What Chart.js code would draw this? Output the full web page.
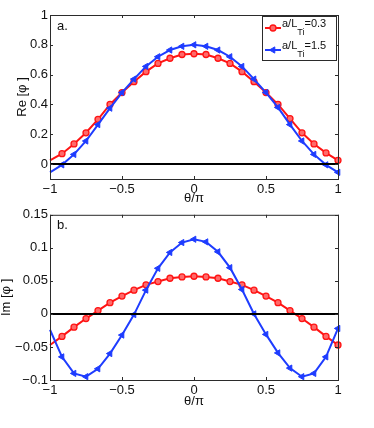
<!DOCTYPE html>
<html>
<head>
<meta charset="utf-8">
<script src="https://cdn.jsdelivr.net/npm/chart.js@4.4.1/dist/chart.umd.min.js"></script>
<style>
  html, body { margin: 0; padding: 0; background: #fff; }
  #wrap { position: relative; width: 374px; height: 428px; overflow: hidden; }
  canvas { position: absolute; left: 0; }
  #re-chart { top: 0; }
  #im-chart { top: 205px; }
</style>
</head>
<body>
<div id="wrap">
  <canvas id="re-chart" width="374" height="205"></canvas>
  <canvas id="im-chart" width="374" height="203"></canvas>
</div>
<script>
// theta/pi sample points
const theta = [-1, -0.9167, -0.8333, -0.75, -0.6667, -0.5833, -0.5, -0.4167, -0.3333, -0.25, -0.1667, -0.0833,
  0, 0.0833, 0.1667, 0.25, 0.3333, 0.4167, 0.5, 0.5833, 0.6667, 0.75, 0.8333, 0.9167, 1];

// a/L_Ti values for the two series
const seriesLabels = ['0.3', '1.5'];

// Re[phi]
const reLow  = [0.025, 0.07, 0.135, 0.21, 0.30, 0.40, 0.48, 0.553, 0.62, 0.675, 0.71, 0.735, 0.74,
  0.735, 0.71, 0.675, 0.62, 0.553, 0.48, 0.40, 0.305, 0.21, 0.135, 0.075, 0.025];
const reHigh = [-0.055, -0.005, 0.065, 0.155, 0.265, 0.375, 0.48, 0.57, 0.655, 0.72, 0.765, 0.79, 0.80,
  0.79, 0.765, 0.72, 0.655, 0.57, 0.48, 0.38, 0.265, 0.155, 0.065, -0.005, -0.055];

// Im[phi]
const imLow  = [-0.047, -0.034, -0.020, -0.007, 0.005, 0.017, 0.027, 0.036, 0.044, 0.049, 0.054, 0.056, 0.057,
  0.056, 0.054, 0.049, 0.044, 0.036, 0.027, 0.017, 0.005, -0.007, -0.020, -0.034, -0.047];
const imHigh = [-0.024, -0.065, -0.090, -0.095, -0.083, -0.060, -0.032, -0.001, 0.036, 0.069, 0.093, 0.108, 0.113,
  0.109, 0.094, 0.070, 0.037, 0.000, -0.031, -0.059, -0.082, -0.095, -0.090, -0.065, -0.022];

// zero reference line
const zeroX = [-1, 1];
const zeroY = [0, 0];

// ticks
const xTicks = [-1, -0.5, 0, 0.5, 1];
const reTicks = [0, 0.2, 0.4, 0.6, 0.8, 1];
const imTicks = [-0.1, -0.05, 0, 0.05, 0.1, 0.15];

const RED = '#ff1414';
const BLUE = '#1e3cff';
const FONT = "'Liberation Sans', Arial, Helvetica, sans-serif";

const toPoints = (xs, ys) => xs.map((x, i) => ({ x: x, y: ys[i] }));
const fmt = v => String(v).replace('-', '\u2212');

// box, inward ticks, panel tag and legend (MATLAB-ish frame)
const framePlugin = {
  id: 'frame',
  afterDatasetsDraw(chart, args, opts) {
    const { ctx, chartArea: a, scales: { x, y } } = chart;
    ctx.save();
    ctx.strokeStyle = '#2b2b2b';
    ctx.lineWidth = 1;
    ctx.strokeRect(a.left + 0.5, a.top + 0.5, a.right - a.left, a.bottom - a.top);
    ctx.beginPath();
    x.ticks.forEach(t => {
      const px = Math.round(x.getPixelForValue(t.value)) + 0.5;
      ctx.moveTo(px, a.bottom); ctx.lineTo(px, a.bottom - 3);
      ctx.moveTo(px, a.top); ctx.lineTo(px, a.top + 3);
    });
    y.ticks.forEach(t => {
      const py = Math.round(y.getPixelForValue(t.value)) + 0.5;
      ctx.moveTo(a.left, py); ctx.lineTo(a.left + 3, py);
      ctx.moveTo(a.right, py); ctx.lineTo(a.right - 3, py);
    });
    ctx.stroke();

    ctx.fillStyle = '#111';
    ctx.font = '13px ' + FONT;
    ctx.textBaseline = 'middle';
    ctx.textAlign = 'left';
    ctx.fillText(opts.tag, a.left + 7, a.top + opts.tagDy);

    if (opts.legend) {
      const lx = 262, ly = 16, lw = 74, lh = 44;
      ctx.fillStyle = '#fff';
      ctx.fillRect(lx, ly, lw, lh);
      ctx.strokeStyle = '#2b2b2b';
      ctx.strokeRect(lx + 0.5, ly + 0.5, lw, lh);
      const sets = chart.data.datasets.filter(d => d.legendValue)
        .sort((p, q) => seriesLabels.indexOf(p.legendValue) - seriesLabels.indexOf(q.legendValue));
      sets.forEach((d, i) => {
        const cy = 28 + i * 22;
        ctx.strokeStyle = d.borderColor;
        ctx.lineWidth = 2;
        ctx.beginPath();
        ctx.moveTo(265, cy); ctx.lineTo(281, cy);
        ctx.stroke();
        ctx.fillStyle = d.pointBackgroundColor;
        ctx.lineWidth = d.pointBorderWidth;
        Chart.helpers.drawPoint(ctx, {
          pointStyle: d.pointStyle, radius: d.legendRadius,
          rotation: d.pointRotation, borderWidth: d.pointBorderWidth
        }, 273, cy);
        ctx.fillStyle = '#111';
        ctx.textBaseline = 'alphabetic';
        ctx.font = '11px ' + FONT;
        ctx.fillText('a/L', 282, cy - 0.7);
        const w = ctx.measureText('a/L').width;
        ctx.font = '9px ' + FONT;
        ctx.fillText('Ti', 282 + w, cy + 6.5);
        const sw = ctx.measureText('Ti').width;
        ctx.font = '11px ' + FONT;
        ctx.fillText('=' + d.legendValue, 282 + w + sw, cy - 0.7);
      });
    }
    ctx.restore();
  }
};

const lowStyle = {
  borderColor: RED, borderWidth: 2,
  pointStyle: 'circle', pointBackgroundColor: '#ff6a6a', pointBorderColor: RED,
  pointBorderWidth: 1.3, pointRotation: 0, legendRadius: 3,
  pointRadius: c => c.dataIndex === 0 ? 0 : 3
};
const highStyle = {
  borderColor: BLUE, borderWidth: 2,
  pointStyle: 'triangle', pointBackgroundColor: BLUE, pointBorderColor: BLUE,
  pointBorderWidth: 1, pointRotation: -90, legendRadius: 3.6,
  pointRadius: c => c.dataIndex === 0 ? 0 : 3.6
};

function makeChart(id, low, high, yMin, yMax, yTicks, yTitle, opts) {
  const ctx = document.getElementById(id).getContext('2d');
  return new Chart(ctx, {
    type: 'line',
    data: {
      datasets: [
        { data: toPoints(zeroX, zeroY), borderColor: '#000', borderWidth: 2, pointRadius: 0 },
        Object.assign({ data: toPoints(theta, high), legendValue: seriesLabels[1], clip: false }, highStyle),
        Object.assign({ data: toPoints(theta, low), legendValue: seriesLabels[0], clip: false }, lowStyle)
      ]
    },
    options: {
      responsive: false,
      animation: false,
      devicePixelRatio: 1,
      layout: { padding: { top: opts.padTop, right: 36, left: 0, bottom: 0 } },
      plugins: {
        legend: { display: false },
        tooltip: { enabled: false },
        frame: { tag: opts.tag, tagDy: opts.tagDy, legend: opts.legend }
      },
      scales: {
        x: {
          type: 'linear', min: -1, max: 1,
          grid: { display: false, drawTicks: false },
          border: { display: false },
          afterBuildTicks: s => { s.ticks = xTicks.map(v => ({ value: v })); },
          afterFit: s => { s.height = opts.xHeight; },
          ticks: {
            padding: 3, color: '#111', maxRotation: 0, autoSkip: false,
            font: { family: FONT, size: 13 },
            callback: v => fmt(v)
          },
          title: {
            display: true, text: '\u03b8/\u03c0', color: '#111',
            font: { family: FONT, size: 13, lineHeight: 1 }, padding: 0
          }
        },
        y: {
          min: yMin, max: yMax,
          grid: { display: false, drawTicks: false },
          border: { display: false },
          afterBuildTicks: s => { s.ticks = yTicks.map(v => ({ value: v })); },
          afterFit: s => { s.width = 50; },
          ticks: {
            padding: 2, color: '#111', autoSkip: false,
            font: { family: FONT, size: 13 },
            callback: v => fmt(v)
          },
          title: {
            display: true, text: yTitle, color: '#111',
            font: { family: FONT, size: 13, lineHeight: 1 },
            padding: { top: opts.yTitlePad, bottom: 0 }
          }
        }
      }
    },
    plugins: [framePlugin]
  });
}

makeChart('re-chart', reLow, reHigh, -0.1, 1, reTicks, 'Re [\u03c6 ]',
  { padTop: 15, xHeight: 26, yTitlePad: 16, tag: 'a.', tagDy: 11, legend: true });
makeChart('im-chart', imLow, imHigh, -0.1, 0.15, imTicks, 'Im [\u03c6 ]',
  { padTop: 8, xHeight: 28, yTitlePad: 0, tag: 'b.', tagDy: 11, legend: false });
</script>
</body>
</html>
